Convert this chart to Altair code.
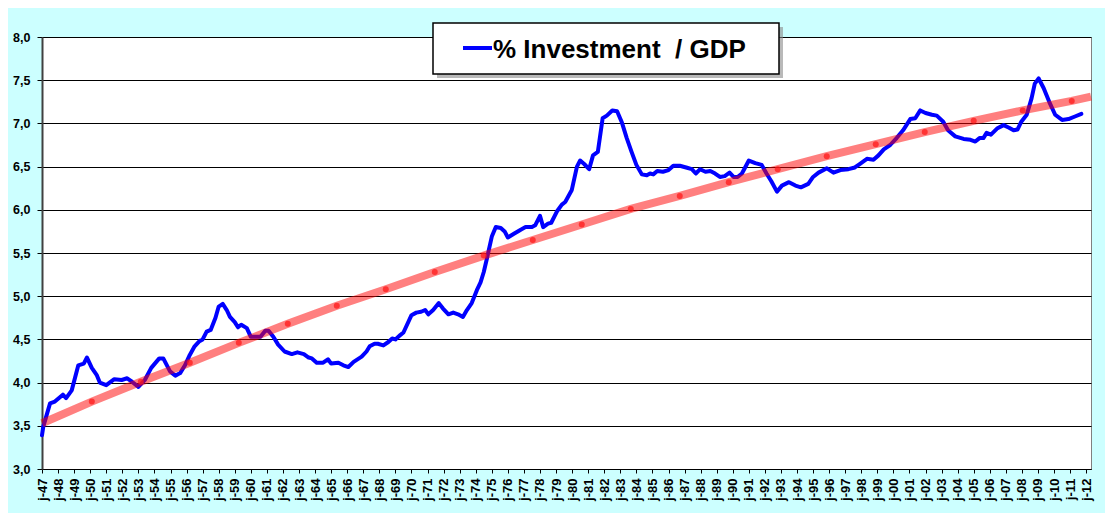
import altair as alt
import pandas as pd

# Blue series: % investment / GDP
inv_years = [1947.0, 1947.08, 1947.5, 1947.8, 1948.3, 1948.5, 1948.85, 1949.26, 1949.6, 1949.8,
             1950.1, 1950.4, 1950.6, 1951.0, 1951.5, 1951.96, 1952.3, 1952.6, 1953.0, 1953.4,
             1953.8, 1954.3, 1954.55, 1954.97, 1955.3, 1955.6, 1955.9, 1956.2, 1956.5, 1956.8,
             1957.0, 1957.25, 1957.5, 1957.8, 1958.0, 1958.25, 1958.5, 1958.7, 1959.0, 1959.2,
             1959.4, 1959.75, 1960.0, 1960.3, 1960.6, 1960.9, 1961.1, 1961.4, 1961.7, 1962.1,
             1962.55, 1962.9, 1963.3, 1963.6, 1963.8, 1964.1, 1964.5, 1964.8, 1965.0, 1965.45,
             1965.76, 1966.07, 1966.4, 1966.9, 1967.2, 1967.4, 1967.7, 1967.9, 1968.25, 1968.56,
             1968.8, 1969.0, 1969.3, 1969.5, 1970.0, 1970.3, 1970.6, 1970.85, 1971.05, 1971.35,
             1971.7, 1971.95, 1972.3, 1972.6, 1972.9, 1973.2, 1973.45, 1973.75, 1974.07, 1974.3,
             1974.5, 1974.7, 1975.0, 1975.25, 1975.56, 1975.8, 1976.0, 1976.35, 1976.8, 1977.1,
             1977.5, 1977.7, 1978.0, 1978.2, 1978.5, 1978.7, 1979.05, 1979.36, 1979.57, 1979.98,
             1980.3, 1980.5, 1980.75, 1981.06, 1981.3, 1981.6, 1981.9, 1982.16, 1982.5, 1982.8,
             1983.1, 1983.4, 1983.7, 1984.0, 1984.34, 1984.65, 1984.85, 1985.05, 1985.3, 1985.65,
             1986.0, 1986.3, 1986.7, 1987.1, 1987.45, 1987.7, 1987.97, 1988.3, 1988.6, 1988.9,
             1989.2, 1989.5, 1989.8, 1990.05, 1990.3, 1990.57, 1991.0, 1991.4, 1991.8, 1992.1,
             1992.4, 1992.75, 1993.06, 1993.5, 1993.9, 1994.24, 1994.7, 1995.0, 1995.34, 1995.86,
             1996.27, 1996.7, 1997.2, 1997.6, 1997.9, 1998.35, 1998.76, 1999.07, 1999.4, 1999.8,
             2000.2, 2000.6, 2001.05, 2001.36, 2001.67, 2002.0, 2002.4, 2002.7, 2003.1, 2003.4,
             2003.85, 2004.37, 2004.8, 2005.1, 2005.36, 2005.6, 2005.8, 2006.07, 2006.45, 2006.86,
             2007.2, 2007.48, 2007.73, 2007.96, 2008.3, 2008.6, 2008.8, 2009.04, 2009.35, 2009.7,
             2010.07, 2010.5, 2010.9, 2011.3, 2011.7]
inv_values = [3.39, 3.49, 3.76, 3.78, 3.86, 3.82, 3.91, 4.20, 4.22, 4.29,
              4.17, 4.09, 4.00, 3.97, 4.04, 4.03, 4.05, 4.01, 3.95, 4.03,
              4.17, 4.28, 4.28, 4.13, 4.08, 4.11, 4.20, 4.32, 4.42, 4.48,
              4.50, 4.59, 4.61, 4.75, 4.88, 4.91, 4.84, 4.76, 4.70, 4.64,
              4.67, 4.63, 4.53, 4.53, 4.53, 4.60, 4.60, 4.53, 4.44, 4.36,
              4.33, 4.35, 4.33, 4.29, 4.28, 4.23, 4.23, 4.27, 4.22, 4.23,
              4.20, 4.18, 4.24, 4.30, 4.36, 4.42, 4.45, 4.45, 4.43, 4.47,
              4.51, 4.50, 4.55, 4.58, 4.78, 4.81, 4.82, 4.84, 4.79, 4.84,
              4.92, 4.86, 4.79, 4.81, 4.79, 4.76, 4.84, 4.92, 5.07, 5.16,
              5.28, 5.44, 5.69, 5.80, 5.79, 5.75, 5.68, 5.72, 5.77, 5.80,
              5.80, 5.82, 5.93, 5.80, 5.84, 5.85, 5.98, 6.06, 6.09, 6.23,
              6.50, 6.57, 6.53, 6.47, 6.63, 6.67, 7.06, 7.09, 7.15, 7.14,
              7.01, 6.83, 6.67, 6.52, 6.41, 6.40, 6.42, 6.41, 6.45, 6.44,
              6.46, 6.51, 6.51, 6.49, 6.47, 6.42, 6.47, 6.44, 6.45, 6.42,
              6.38, 6.39, 6.43, 6.38, 6.38, 6.42, 6.57, 6.54, 6.52, 6.42,
              6.33, 6.21, 6.28, 6.32, 6.28, 6.26, 6.30, 6.38, 6.43, 6.48,
              6.43, 6.46, 6.47, 6.49, 6.53, 6.59, 6.58, 6.63, 6.70, 6.75,
              6.83, 6.92, 7.05, 7.06, 7.15, 7.12, 7.10, 7.09, 7.02, 6.92,
              6.85, 6.82, 6.81, 6.79, 6.83, 6.83, 6.89, 6.87, 6.94, 6.98,
              6.95, 6.92, 6.93, 7.02, 7.10, 7.29, 7.46, 7.52, 7.41, 7.25,
              7.10, 7.04, 7.05, 7.08, 7.11]

# Red trend line
trend_years = [1947.0, 1950.1, 1953.15, 1956.2, 1959.25, 1962.3, 1965.35, 1968.4, 1971.45,
               1974.5, 1977.55, 1980.6, 1983.65, 1986.7, 1989.75, 1992.8, 1995.85, 1998.9,
               2001.95, 2005.0, 2008.05, 2011.1, 2012.3]
trend_values = [3.53, 3.78, 4.01, 4.23, 4.46, 4.68, 4.89, 5.08, 5.28,
                5.47, 5.65, 5.83, 6.01, 6.16, 6.32, 6.47, 6.62, 6.76,
                6.90, 7.03, 7.15, 7.26, 7.31]

tick_years = list(range(1947, 2013))
y_ticks = [3.0, 3.5, 4.0, 4.5, 5.0, 5.5, 6.0, 6.5, 7.0, 7.5, 8.0]
legend_label = "% Investment\u00a0 / GDP"

inv = pd.DataFrame({"year": inv_years, "value": inv_values})
trend = pd.DataFrame({"year": trend_years, "value": trend_values})
dots = pd.DataFrame({"year": trend_years[1:-1], "value": trend_values[1:-1]})
one = pd.DataFrame({"k": [0]})

FONT = "Liberation Sans"

xs = alt.Scale(domain=[1947, 2012.3], nice=False, zero=False)
ys = alt.Scale(domain=[3, 8], nice=False, zero=False)

x_axis = alt.Axis(values=tick_years, grid=False, labelAngle=270, labelPadding=5,
                  labelExpr="'j-' + substring(toString(datum.value), 2, 4)",
                  labelFont=FONT, labelFontSize=13, labelFontWeight="bold", labelColor="black",
                  tickColor="black", tickSize=4, domainColor="black", domainWidth=1,
                  labelOverlap=False, labelSeparation=0, labelBound=False, labelFlush=False,
                  tickCount=66, title=None)
y_axis = alt.Axis(values=y_ticks, grid=True, gridColor="black", gridWidth=1, gridOpacity=1,
                  labelExpr="replace(format(datum.value, '.1f'), '.', ',')",
                  labelFont=FONT, labelFontSize=12.5, labelFontWeight="bold", labelColor="black",
                  labelPadding=7, tickColor="black", tickSize=5, labelOverlap=False,
                  domainColor="#404040", domainWidth=2, title=None)

blue = alt.Chart(inv).mark_line(color="#0000FF", strokeWidth=4, strokeJoin="round",
                                strokeCap="round").encode(
    x=alt.X("year:Q", scale=xs, axis=x_axis),
    y=alt.Y("value:Q", scale=ys, axis=y_axis),
)

red = alt.Chart(trend).mark_line(color="#FF0000", strokeWidth=8, opacity=0.5).encode(
    x=alt.X("year:Q", scale=xs),
    y=alt.Y("value:Q", scale=ys),
)

red_dots = alt.Chart(dots).mark_circle(color="#FF1A1A", size=36, opacity=0.75).encode(
    x=alt.X("year:Q", scale=xs),
    y=alt.Y("value:Q", scale=ys),
)

shadow = alt.Chart(one).mark_rect(color="#8a8a8a", opacity=0.6).encode(
    x=alt.value(395), x2=alt.value(741), y=alt.value(-10), y2=alt.value(41))
box = alt.Chart(one).mark_rect(fill="white", stroke="black", strokeWidth=1.5).encode(
    x=alt.value(391), x2=alt.value(737), y=alt.value(-14), y2=alt.value(37))
sample = alt.Chart(one).mark_rule(color="#0000FF", strokeWidth=4).encode(
    x=alt.value(421), x2=alt.value(450), y=alt.value(11))
label = alt.Chart(one).mark_text(text=legend_label, font=FONT, fontSize=26, fontWeight="bold",
                                 align="left", baseline="alphabetic", color="black").encode(
    x=alt.value(451), y=alt.value(21))

chart = alt.layer(blue, red, red_dots, shadow, box, sample, label).properties(
    width=1049, height=432,
    background="#CCFFFF",
    padding={"left": 34, "top": 29, "right": 14, "bottom": 44},
    autosize=alt.AutoSizeParams(type="none"),
).configure_view(
    fill="white", stroke="#808080", strokeWidth=1
).configure_axisX(
    labelOverlap=False
)

chart.save("out.html", embed_options={"renderer": "svg", "actions": False})
